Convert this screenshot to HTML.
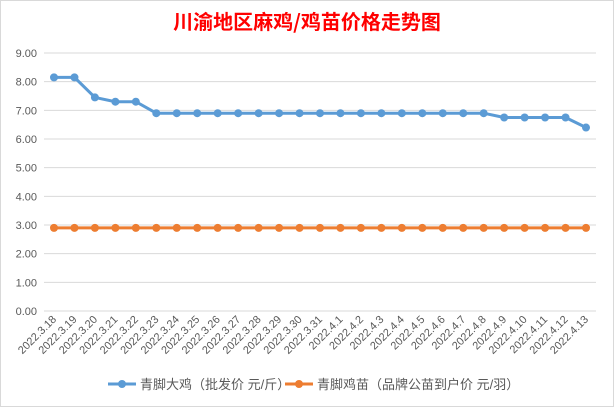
<!DOCTYPE html>
<html><head><meta charset="utf-8"><style>
body{margin:0;background:#fff;}
svg{display:block;font-family:"Liberation Sans","Noto Sans CJK SC",sans-serif;}
</style></head><body>
<svg id="c" width="614" height="407">
<rect x="0.5" y="0.5" width="613" height="406" fill="#fff" stroke="#d9d9d9"/>
<text x="307" y="29" text-anchor="middle" font-size="20" font-weight="bold" fill="#ff0000" font-family="'Noto Sans CJK SC',sans-serif">川渝地区麻鸡/鸡苗价格走势图</text>
<g id="grid"></g><g id="yt"></g><g id="xt"></g><g id="s"></g>
<g>
<g><line x1="108" y1="384" x2="136" y2="384" stroke="#5b9bd5" stroke-width="3"/><circle cx="122" cy="384" r="4" fill="#5b9bd5"/><text x="140" y="389" font-size="13" fill="#595959">青脚大鸡（批发价 元/斤）</text></g>
<g><line x1="285" y1="384" x2="313" y2="384" stroke="#ed7d31" stroke-width="3"/><circle cx="299" cy="384" r="4" fill="#ed7d31"/><text x="317" y="389" font-size="13" fill="#595959">青脚鸡苗（品牌公苗到户价 元/羽）</text></g>
</g>
</svg>
<script>
const categories=["2022.3.18","2022.3.19","2022.3.20","2022.3.21","2022.3.22","2022.3.23","2022.3.24","2022.3.25","2022.3.26","2022.3.27","2022.3.28","2022.3.29","2022.3.30","2022.3.31","2022.4.1","2022.4.2","2022.4.3","2022.4.4","2022.4.5","2022.4.6","2022.4.7","2022.4.8","2022.4.9","2022.4.10","2022.4.11","2022.4.12","2022.4.13"];
const chickenPrice=[8.15,8.15,7.45,7.3,7.3,6.9,6.9,6.9,6.9,6.9,6.9,6.9,6.9,6.9,6.9,6.9,6.9,6.9,6.9,6.9,6.9,6.9,6.75,6.75,6.75,6.75,6.4];
const chickPrice=[2.9,2.9,2.9,2.9,2.9,2.9,2.9,2.9,2.9,2.9,2.9,2.9,2.9,2.9,2.9,2.9,2.9,2.9,2.9,2.9,2.9,2.9,2.9,2.9,2.9,2.9,2.9];
const yTicks=[0,1,2,3,4,5,6,7,8,9];
const NS="http://www.w3.org/2000/svg";
const x0=54,x1=586,yTop=53,yBot=311,yMax=9;
const X=i=>x0+i*(x1-x0)/(categories.length-1);
const Y=v=>yBot-v/yMax*(yBot-yTop);
function mk(t,a,p){const e=document.createElementNS(NS,t);for(const k in a)e.setAttribute(k,a[k]);p.appendChild(e);return e;}
const grid=document.getElementById('grid'),yt=document.getElementById('yt'),xt=document.getElementById('xt'),s=document.getElementById('s');
yTicks.forEach(v=>{
const l=mk('line',{x1:44,x2:596,y1:Y(v),y2:Y(v),stroke:'#d9d9d9'},grid);


const t=mk('text',{x:37,y:Y(v)+4,'text-anchor':'end','font-size':11,fill:'#595959'},yt);
t.textContent=v.toFixed(2);


});
categories.forEach((c,i)=>{
const t=mk('text',{x:X(i)+3,y:320,'text-anchor':'end','font-size':11,fill:'#595959',transform:`rotate(-45 ${X(i)+3} 320)`},xt);
t.textContent=c;


});
function series(vals,color,name){
const g=mk('g',{},s);


const pl=mk('polyline',{points:vals.map((v,i)=>X(i)+','+Y(v)).join(' '),fill:'none',stroke:color,'stroke-width':3,'stroke-linejoin':'round'},g);


vals.forEach((v,i)=>{
const c=mk('circle',{cx:X(i),cy:Y(v),r:4,fill:color},g);


});
}
series(chickenPrice,'#5b9bd5','series-chicken');
series(chickPrice,'#ed7d31','series-chick');
</script>
</body></html>
